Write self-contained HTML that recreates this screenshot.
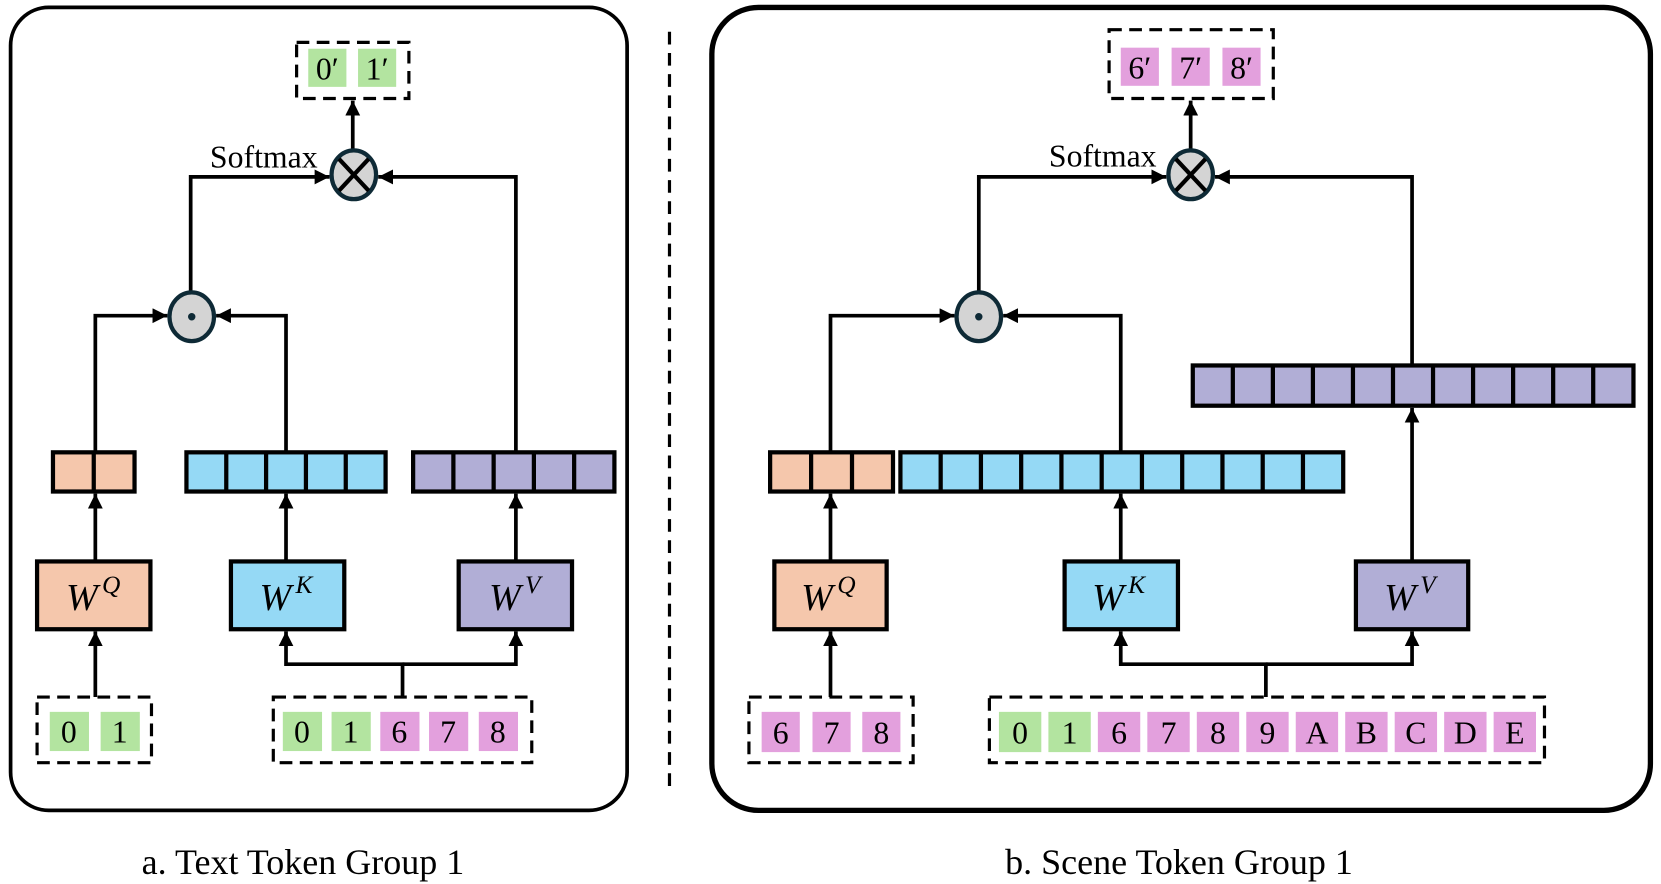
<!DOCTYPE html>
<html><head><meta charset="utf-8"><style>
html,body{margin:0;padding:0;background:#fff;}
svg{display:block;}
text{font-family:"Liberation Serif",serif;}
</style></head><body>
<svg width="1661" height="884" viewBox="0 0 1568 834.5" preserveAspectRatio="none" xmlns="http://www.w3.org/2000/svg">
<defs>
<marker id="a" markerUnits="userSpaceOnUse" markerWidth="16" markerHeight="16" refX="14" refY="7" orient="auto"><path d="M0,0 L14,7 L0,14 Z" fill="#000"/></marker>
</defs>
<g fill="none" stroke="#000">
<rect x="10" y="7" width="582" height="758" rx="36" stroke-width="3.5"/>
<rect x="672" y="7" width="886" height="758" rx="44" stroke-width="5"/>
<line x1="632" y1="30" x2="632" y2="745" stroke-width="3" stroke-dasharray="12,8"/>
</g>

<!-- LEFT PANEL -->
<g stroke="#000" stroke-width="3" fill="none">
<rect x="280" y="40" width="106" height="53" stroke-dasharray="12,7"/>
<rect x="35" y="658" width="108" height="62" stroke-dasharray="12,7"/>
<rect x="258" y="658" width="244" height="62" stroke-dasharray="12,7"/>
</g>
<g fill="#B3E4A0"><rect x="291" y="46" width="36" height="36"/><rect x="338" y="46" width="36" height="36"/>
<rect x="47" y="672" width="37" height="37"/><rect x="95" y="672" width="37" height="37"/>
<rect x="267" y="672" width="37" height="37"/><rect x="313" y="672" width="37" height="37"/></g>
<g fill="#E3A0DD"><rect x="359" y="672" width="37" height="37"/><rect x="405" y="672" width="37" height="37"/><rect x="452" y="672" width="37" height="37"/></g>
<g font-size="30" text-anchor="middle">
<text x="309" y="75">0′</text><text x="356" y="75">1′</text>
<text x="65" y="701">0</text><text x="113" y="701">1</text>
<text x="285" y="701">0</text><text x="331" y="701">1</text><text x="377" y="701">6</text><text x="423" y="701">7</text><text x="470" y="701">8</text>
</g>
<g stroke="#000" stroke-width="4">
<rect x="50" y="427" width="77" height="37" fill="#F5C7AC"/><line x1="88.5" y1="427" x2="88.5" y2="464"/>
<rect x="176" y="427" width="188" height="37" fill="#95D9F5"/>
<line x1="213.6" y1="427" x2="213.6" y2="464"/><line x1="251.2" y1="427" x2="251.2" y2="464"/><line x1="288.8" y1="427" x2="288.8" y2="464"/><line x1="326.4" y1="427" x2="326.4" y2="464"/>
<rect x="390" y="427" width="190" height="37" fill="#B1AED6"/>
<line x1="428" y1="427" x2="428" y2="464"/><line x1="466" y1="427" x2="466" y2="464"/><line x1="504" y1="427" x2="504" y2="464"/><line x1="542" y1="427" x2="542" y2="464"/>
<rect x="35" y="530" width="107" height="64" fill="#F5C7AC"/>
<rect x="218" y="530" width="107" height="64" fill="#95D9F5"/>
<rect x="433" y="530" width="107" height="64" fill="#B1AED6"/>
</g>
<g font-size="36" font-style="italic" text-anchor="middle">
<text x="88" y="576">W<tspan font-size="24" dx="4" dy="-16">Q</tspan></text>
<text x="270" y="576">W<tspan font-size="24" dx="4" dy="-16">K</tspan></text>
<text x="486" y="576">W<tspan font-size="24" dx="4" dy="-16">V</tspan></text>
</g>
<g stroke="#000" stroke-width="3.5" fill="none" marker-end="url(#a)">
<line x1="333" y1="142" x2="333" y2="95"/>
<polyline points="180,278 180,167 311,167"/>
<polyline points="487,427 487,167 357,167"/>
<polyline points="90,427 90,298 158,298"/>
<polyline points="270,427 270,298 204,298"/>
<line x1="90" y1="530" x2="90" y2="466"/>
<line x1="270" y1="530" x2="270" y2="466"/>
<line x1="487" y1="530" x2="487" y2="466"/>
<line x1="90" y1="658" x2="90" y2="596"/>
<polyline points="380,658 380,627 270,627 270,596" />
<polyline points="380,627 487,627 487,596"/>
</g>
<g stroke="#0e2a36" stroke-width="4" fill="#d4d4d4">
<ellipse cx="334" cy="165" rx="21" ry="23"/>
<ellipse cx="181" cy="299" rx="21" ry="23"/>
</g>
<g stroke="#000" stroke-width="4"><line x1="320" y1="150" x2="348" y2="180"/><line x1="348" y1="150" x2="320" y2="180"/></g>
<circle cx="181" cy="299" r="3.5" fill="#0e2a36"/>
<text x="249" y="158" font-size="30" text-anchor="middle">Softmax</text>

<!-- RIGHT PANEL -->
<g stroke="#000" stroke-width="3" fill="none">
<rect x="1047" y="28" width="155" height="65" stroke-dasharray="12,7"/>
<rect x="707" y="658" width="155" height="62" stroke-dasharray="12,7"/>
<rect x="934" y="658" width="524" height="62" stroke-dasharray="12,7"/>
</g>
<g fill="#E3A0DD">
<rect x="1058" y="45" width="36" height="36"/><rect x="1106" y="45" width="36" height="36"/><rect x="1154" y="45" width="36" height="36"/>
<rect x="719" y="672" width="36" height="38"/><rect x="767" y="672" width="36" height="38"/><rect x="814" y="672" width="36" height="38"/>
<rect x="1036.4" y="672" width="40" height="38"/><rect x="1083.1" y="672" width="40" height="38"/><rect x="1129.8" y="672" width="40" height="38"/><rect x="1176.5" y="672" width="40" height="38"/><rect x="1223.2" y="672" width="40" height="38"/><rect x="1269.9" y="672" width="40" height="38"/><rect x="1316.6" y="672" width="40" height="38"/><rect x="1363.3" y="672" width="40" height="38"/><rect x="1410" y="672" width="40" height="38"/>
</g>
<g fill="#B3E4A0"><rect x="943" y="672" width="40" height="38"/><rect x="989.7" y="672" width="40" height="38"/></g>
<g font-size="30" text-anchor="middle">
<text x="1076" y="74">6′</text><text x="1124" y="74">7′</text><text x="1172" y="74">8′</text>
<text x="737" y="702">6</text><text x="785" y="702">7</text><text x="832" y="702">8</text>
<text x="963" y="702">0</text><text x="1009.7" y="702">1</text><text x="1056.4" y="702">6</text><text x="1103.1" y="702">7</text><text x="1149.8" y="702">8</text><text x="1196.5" y="702">9</text><text x="1243.2" y="702">A</text><text x="1289.9" y="702">B</text><text x="1336.6" y="702">C</text><text x="1383.3" y="702">D</text><text x="1430" y="702">E</text>
</g>
<g stroke="#000" stroke-width="4">
<rect x="727" y="427" width="116" height="37" fill="#F5C7AC"/><line x1="765.7" y1="427" x2="765.7" y2="464"/><line x1="804.3" y1="427" x2="804.3" y2="464"/>
<rect x="850" y="427" width="418" height="37" fill="#95D9F5"/>
<line x1="888" y1="427" x2="888" y2="464"/><line x1="926" y1="427" x2="926" y2="464"/><line x1="964" y1="427" x2="964" y2="464"/><line x1="1002" y1="427" x2="1002" y2="464"/><line x1="1040" y1="427" x2="1040" y2="464"/><line x1="1078" y1="427" x2="1078" y2="464"/><line x1="1116" y1="427" x2="1116" y2="464"/><line x1="1154" y1="427" x2="1154" y2="464"/><line x1="1192" y1="427" x2="1192" y2="464"/><line x1="1230" y1="427" x2="1230" y2="464"/>
<rect x="1126" y="345" width="416" height="38" fill="#B1AED6"/>
<line x1="1163.8" y1="345" x2="1163.8" y2="383"/><line x1="1201.6" y1="345" x2="1201.6" y2="383"/><line x1="1239.4" y1="345" x2="1239.4" y2="383"/><line x1="1277.2" y1="345" x2="1277.2" y2="383"/><line x1="1315" y1="345" x2="1315" y2="383"/><line x1="1352.8" y1="345" x2="1352.8" y2="383"/><line x1="1390.6" y1="345" x2="1390.6" y2="383"/><line x1="1428.4" y1="345" x2="1428.4" y2="383"/><line x1="1466.2" y1="345" x2="1466.2" y2="383"/><line x1="1504" y1="345" x2="1504" y2="383"/>
<rect x="731" y="530" width="106" height="64" fill="#F5C7AC"/>
<rect x="1005" y="530" width="107" height="64" fill="#95D9F5"/>
<rect x="1280" y="530" width="106" height="64" fill="#B1AED6"/>
</g>
<g font-size="36" font-style="italic" text-anchor="middle">
<text x="782" y="576">W<tspan font-size="24" dx="4" dy="-16">Q</tspan></text>
<text x="1056" y="576">W<tspan font-size="24" dx="4" dy="-16">K</tspan></text>
<text x="1331" y="576">W<tspan font-size="24" dx="4" dy="-16">V</tspan></text>
</g>
<g stroke="#000" stroke-width="3.5" fill="none" marker-end="url(#a)">
<line x1="1124" y1="142" x2="1124" y2="95"/>
<polyline points="924,278 924,167 1101,167"/>
<polyline points="1333,345 1333,167 1147,167"/>
<polyline points="784,427 784,298 901,298"/>
<polyline points="1058,427 1058,298 947,298"/>
<line x1="784" y1="530" x2="784" y2="466"/>
<line x1="1058" y1="530" x2="1058" y2="466"/>
<line x1="1333" y1="530" x2="1333" y2="385"/>
<line x1="784" y1="658" x2="784" y2="596"/>
<polyline points="1195,658 1195,627 1058,627 1058,596"/>
<polyline points="1195,627 1333,627 1333,596"/>
</g>
<g stroke="#0e2a36" stroke-width="4" fill="#d4d4d4">
<ellipse cx="1124" cy="165" rx="21" ry="23"/>
<ellipse cx="924" cy="299" rx="21" ry="23"/>
</g>
<g stroke="#000" stroke-width="4"><line x1="1110" y1="150" x2="1138" y2="180"/><line x1="1138" y1="150" x2="1110" y2="180"/></g>
<circle cx="924" cy="299" r="3.5" fill="#0e2a36"/>
<text x="1041" y="157" font-size="30" text-anchor="middle">Softmax</text>

<text x="286" y="825" font-size="34" text-anchor="middle">a. Text Token Group 1</text>
<text x="1113" y="825" font-size="34" text-anchor="middle">b. Scene Token Group 1</text>
</svg>
</body></html>
